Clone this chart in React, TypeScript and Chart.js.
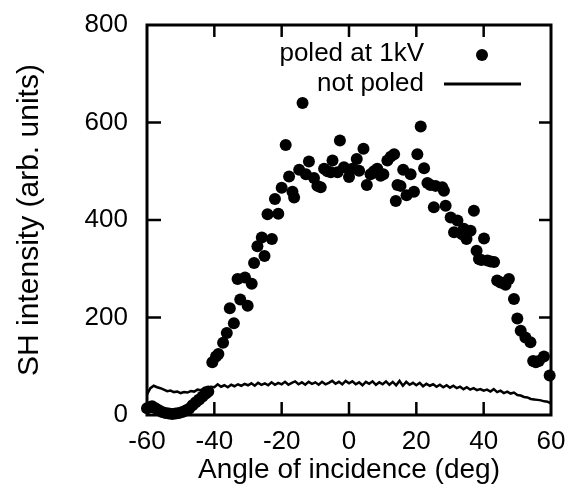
import React, { useEffect, useRef } from "react";
import { Chart, registerables } from "chart.js";

Chart.register(...registerables);

const poledLabel = "poled at 1kV";
const unpoledLabel = "not poled";
const xTitle = "Angle of incidence (deg)";
const yTitle = "SH intensity (arb. units)";

const xTicks = [-60, -40, -20, 0, 20, 40, 60];
const yTicks = [0, 200, 400, 600, 800];

const poledAngles = [
  -60, -59.3, -58.5, -57.5, -56.5, -55.5, -54.5, -53.5, -52.5, -51.5,
  -50.5, -49.5, -48.5, -47.5, -46.5, -45.5, -44.5, -43.5, -42.5, -41.8,
  -40.6, -39.5, -38.8, -37.4, -36.3, -35.4, -34.2, -33.1, -32.3, -30.9,
  -30.1, -28.9, -28.2, -27.2, -25.9, -25.1, -24.2, -22.9, -22.0, -21.0,
  -20.0, -18.8, -17.8, -16.8, -16.3, -14.8, -13.8, -12.8, -11.9, -10.4,
  -9.4, -8.4, -7.4, -6.4, -5.4, -4.9, -3.4, -2.7, -1.5, 0,
  1.0, 2.3, 3.0, 4.3, 5.3, 6.4, 7.4, 8.4, 9.4, 10.2,
  11.4, 12.4, 13.4, 13.9, 14.4, 15.3, 16.1, 17.1, 18.3, 19.3,
  20.3, 21.3, 22.3, 23.3, 24.2, 25.2, 25.7, 27.7, 28.2, 28.7,
  30.2, 31.2, 32.2, 33.6, 34.1, 34.9, 36.1, 37.1, 37.9, 38.6,
  39.3, 40.1, 41.1, 42.1, 43.1, 44.0, 45.0, 45.8, 46.5, 47.5,
  49.0, 50.0, 51.0, 52.4, 53.9, 54.7, 55.5, 56.4, 57.9, 59.6,
];
const poledValues = [
  14, 16, 18, 14, 10, 6, 4, 3, 2, 3,
  4, 6, 9, 13, 20, 26, 32, 38, 44, 48,
  108, 120, 125, 148, 168, 219, 188, 279, 237, 282,
  224, 269, 312, 346, 364, 326, 412, 361, 443, 413,
  466, 554, 489, 458, 446, 503, 640, 494, 520, 486,
  470, 467, 505, 500, 498, 522, 498, 563, 508, 488,
  505, 525, 501, 546, 472, 494, 500, 505, 491, 494,
  522, 530, 535, 439, 472, 470, 503, 451, 494, 458,
  535, 592, 506, 476, 472, 426, 470, 467, 460, 429,
  405, 375, 399, 371, 382, 361, 378, 419, 337, 320,
  318, 362, 317, 315, 314, 276, 272, 271, 267, 279,
  238, 198, 173, 159, 149, 111, 108, 111, 120, 81,
];

const unpoledAngles = [
  -60, -59, -58, -57, -56, -55, -54, -53, -52, -51,
  -50, -49, -48, -47, -46, -45, -44, -43, -42, -41,
  -40, -39, -38, -37, -36, -35, -34, -33, -32, -31,
  -30, -29, -28, -27, -26, -25, -24, -23, -22, -21,
  -20, -19, -18, -17, -16, -15, -14, -13, -12, -11,
  -10, -9, -8, -7, -6, -5, -4, -3, -2, -1,
  0, 1, 2, 3, 4, 5, 6, 7, 8, 9,
  10, 11, 12, 13, 14, 15, 16, 17, 18, 19,
  20, 21, 22, 23, 24, 25, 26, 27, 28, 29,
  30, 31, 32, 33, 34, 35, 36, 37, 38, 39,
  40, 41, 42, 43, 44, 45, 46, 47, 48, 49,
  50, 51, 52, 53, 54, 55, 56, 57, 58, 59,
  60,
];
const unpoledValues = [
  42, 55, 60, 57, 55, 52, 49, 50, 47, 48,
  45, 47, 46, 49, 48, 52, 51, 56, 55, 58,
  57, 63, 58, 61, 57, 62, 59, 63, 60, 64,
  61, 65, 60, 66, 62, 65, 61, 67, 62, 66,
  63, 68, 62, 66, 69, 63, 67, 62, 68, 64,
  67, 62, 68, 63, 66, 70, 64, 68, 63, 70,
  65, 69, 63, 67, 61, 68, 64, 69, 62, 67,
  63, 69, 62, 68, 61, 70, 60, 68, 62, 66,
  61, 66, 59, 64, 60, 63, 58, 62, 57, 61,
  56, 60, 55, 58, 53, 57, 52, 55, 51, 53,
  50, 52, 48, 53, 47, 50, 45, 48, 44, 46,
  41, 40, 37, 36, 33, 32, 31, 30, 28, 27,
  24,
];

const FONT = "'Liberation Sans', Arial, Helvetica, sans-serif";

const framePlugin = {
  id: "frameAndLegend",
  afterDatasetsDraw(chart: any) {
    const { ctx, chartArea, scales } = chart;
    const { left, right, top, bottom } = chartArea;
    const xs = scales.x;
    const ys = scales.y;
    ctx.save();
    ctx.strokeStyle = "#000";
    ctx.fillStyle = "#000";
    ctx.lineWidth = 3;
    ctx.strokeRect(left, top, right - left, bottom - top);
    ctx.lineWidth = 2.5;
    const seg = (x1: number, y1: number, x2: number, y2: number) => {
      ctx.beginPath();
      ctx.moveTo(x1, y1);
      ctx.lineTo(x2, y2);
      ctx.stroke();
    };
    xs.ticks.forEach((t: any) => {
      if (t.value <= xs.min || t.value >= xs.max) return;
      const px = xs.getPixelForValue(t.value);
      seg(px, bottom, px, bottom - 13);
      seg(px, top, px, top + 12);
    });
    ys.ticks.forEach((t: any) => {
      if (t.value <= ys.min || t.value >= ys.max) return;
      const py = ys.getPixelForValue(t.value);
      seg(left, py, left + 14, py);
      seg(right, py, right - 12, py);
    });

    // key
    const textRight = right - 127;
    const row1 = top + 29;
    const row2 = top + 59;
    ctx.font = `26px ${FONT}`;
    ctx.textAlign = "right";
    ctx.textBaseline = "middle";
    ctx.fillText(poledLabel, textRight, row1);
    ctx.fillText(unpoledLabel, textRight, row2);
    ctx.beginPath();
    ctx.arc(right - 69, row1 + 1, 6, 0, Math.PI * 2);
    ctx.fill();
    ctx.lineWidth = 3;
    seg(right - 107, row2, right - 30, row2);
    ctx.restore();
  },
};

export default function App() {
  const ref = useRef<HTMLCanvasElement | null>(null);

  useEffect(() => {
    if (!ref.current) return;
    const chart = new Chart(ref.current, {
      type: "scatter",
      data: {
        datasets: [
          {
            type: "scatter",
            label: poledLabel,
            data: poledAngles.map((a, i) => ({ x: a, y: poledValues[i] })),
            backgroundColor: "#000",
            borderColor: "#000",
            pointRadius: 6,
            pointBorderWidth: 0,
            clip: false as any,
          },
          {
            type: "line",
            label: unpoledLabel,
            data: unpoledAngles.map((a, i) => ({ x: a, y: unpoledValues[i] })),
            borderColor: "#000",
            borderWidth: 2.5,
            pointRadius: 0,
            tension: 0,
            fill: false,
          } as any,
        ],
      },
      options: {
        responsive: false,
        animation: false,
        layout: { padding: { top: 25, right: 24, left: 0, bottom: 0 } },
        plugins: {
          legend: { display: false },
          tooltip: { enabled: false },
        },
        scales: {
          x: {
            type: "linear",
            min: -60,
            max: 60,
            afterBuildTicks: (scale: any) => {
              scale.ticks = xTicks.map((v) => ({ value: v }));
            },
            afterFit: (scale: any) => {
              scale.height = 74;
              scale.paddingLeft = 0;
              scale.paddingRight = 0;
            },
            grid: { display: false, drawTicks: false },
            border: { display: false },
            ticks: {
              color: "#000",
              padding: 11,
              maxRotation: 0,
              font: { family: FONT, size: 26 },
            },
            title: {
              display: true,
              text: xTitle,
              color: "#000",
              padding: { top: 0, bottom: 2 },
              font: { family: FONT, size: 28 },
            },
          },
          y: {
            type: "linear",
            min: 0,
            max: 800,
            afterBuildTicks: (scale: any) => {
              scale.ticks = yTicks.map((v) => ({ value: v }));
            },
            afterFit: (scale: any) => {
              scale.width = 147;
              scale.paddingTop = 0;
              scale.paddingBottom = 0;
            },
            grid: { display: false, drawTicks: false },
            border: { display: false },
            ticks: {
              color: "#000",
              padding: 19,
              font: { family: FONT, size: 26 },
            },
            title: {
              display: true,
              text: yTitle,
              color: "#000",
              padding: { top: 12, bottom: 0 },
              font: { family: FONT, size: 30 },
            },
          },
        },
      },
      plugins: [framePlugin],
    });
    return () => chart.destroy();
  }, []);

  return (
    <div style={{ position: "absolute", left: 0, top: 0, width: 575, height: 489, background: "#fff" }}>
      <canvas ref={ref} width={575} height={489} style={{ display: "block" }} />
    </div>
  );
}
